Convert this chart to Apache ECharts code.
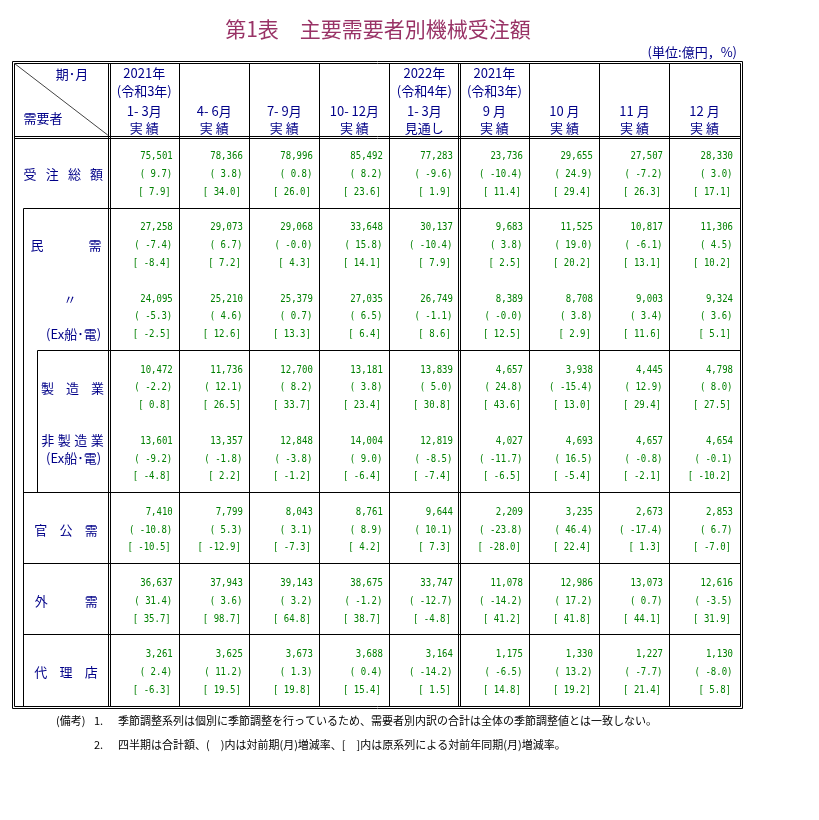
<!DOCTYPE html>
<html>
<head>
<meta charset="utf-8">
<script src="https://cdn.jsdelivr.net/npm/echarts@6/dist/echarts.min.js"></script>
<style>html,body{margin:0;background:#fff}#main{width:819px;height:820px}</style>
</head>
<body>
<div id="main"></div>
<script>
// 列見出し
var yearRow = ['2021年', '', '', '', '2022年', '2021年', '', '', ''];
var eraRow = ['(令和3年)', '', '', '', '(令和4年)', '(令和3年)', '', '', ''];
var periodRow = ['1- 3月', '4- 6月', '7- 9月', '10- 12月', '1- 3月', '9 月', '10 月', '11 月', '12 月'];
var statusRow = ['実 績', '実 績', '実 績', '実 績', '見通し', '実 績', '実 績', '実 績', '実 績'];

// 受注総額
var totalVal = [75501, 78366, 78996, 85492, 77283, 23736, 29655, 27507, 28330];
var totalMom = [9.7, 3.8, 0.8, 8.2, -9.6, -10.4, 24.9, -7.2, 3.0];
var totalYoy = [7.9, 34.0, 26.0, 23.6, 1.9, 11.4, 29.4, 26.3, 17.1];
// 民需
var privVal = [27258, 29073, 29068, 33648, 30137, 9683, 11525, 10817, 11306];
var privMom = [-7.4, 6.7, -0.0, 15.8, -10.4, 3.8, 19.0, -6.1, 4.5];
var privYoy = [-8.4, 7.2, 4.3, 14.1, 7.9, 2.5, 20.2, 13.1, 10.2];
// 民需 (Ex船・電)
var privExVal = [24095, 25210, 25379, 27035, 26749, 8389, 8708, 9003, 9324];
var privExMom = [-5.3, 4.6, 0.7, 6.5, -1.1, -0.0, 3.8, 3.4, 3.6];
var privExYoy = [-2.5, 12.6, 13.3, 6.4, 8.6, 12.5, 2.9, 11.6, 5.1];
// 製造業
var mfgVal = [10472, 11736, 12700, 13181, 13839, 4657, 3938, 4445, 4798];
var mfgMom = [-2.2, 12.1, 8.2, 3.8, 5.0, 24.8, -15.4, 12.9, 8.0];
var mfgYoy = [0.8, 26.5, 33.7, 23.4, 30.8, 43.6, 13.0, 29.4, 27.5];
// 非製造業 (Ex船・電)
var nonMfgVal = [13601, 13357, 12848, 14004, 12819, 4027, 4693, 4657, 4654];
var nonMfgMom = [-9.2, -1.8, -3.8, 9.0, -8.5, -11.7, 16.5, -0.8, -0.1];
var nonMfgYoy = [-4.8, 2.2, -1.2, -6.4, -7.4, -6.5, -5.4, -2.1, -10.2];
// 官公需
var govVal = [7410, 7799, 8043, 8761, 9644, 2209, 3235, 2673, 2853];
var govMom = [-10.8, 5.3, 3.1, 8.9, 10.1, -23.8, 46.4, -17.4, 6.7];
var govYoy = [-10.5, -12.9, -7.3, 4.2, 7.3, -28.0, 22.4, 1.3, -7.0];
// 外需
var extVal = [36637, 37943, 39143, 38675, 33747, 11078, 12986, 13073, 12616];
var extMom = [31.4, 3.6, 3.2, -1.2, -12.7, -14.2, 17.2, 0.7, -3.5];
var extYoy = [35.7, 98.7, 64.8, 38.7, -4.8, 41.2, 41.8, 44.1, 31.9];
// 代理店
var agentVal = [3261, 3625, 3673, 3688, 3164, 1175, 1330, 1227, 1130];
var agentMom = [2.4, 11.2, 1.3, 0.4, -14.2, -6.5, 13.2, -7.7, -8.0];
var agentYoy = [-6.3, 19.5, 19.8, 15.4, 1.5, 14.8, 19.2, 21.4, 5.8];

var rows = [
    [totalVal, totalMom, totalYoy],
    [privVal, privMom, privYoy],
    [privExVal, privExMom, privExYoy],
    [mfgVal, mfgMom, mfgYoy],
    [nonMfgVal, nonMfgMom, nonMfgYoy],
    [govVal, govMom, govYoy],
    [extVal, extMom, extYoy],
    [agentVal, agentMom, agentYoy]
];

var NAVY = '#000088', GREEN = '#008000';
var DATA_FONT = '9px "DejaVu Sans Mono"';
var JP_FONT = '13px "Noto Sans CJK JP"';

function pct(v) {
    var neg = v < 0 || Object.is(v, -0);
    return (neg ? '-' : '') + Math.abs(v).toFixed(1);
}
function num(v) {
    return String(v).replace(/\B(?=(\d{3})+(?!\d))/g, ',');
}

var cells = [];
function add(x, y, text, color, font, align, dx, sy) {
    cells.push({x: x, y: y, text: text, color: color, font: font, align: align, dx: dx || 0, sy: sy || 1});
}
// 文字を均等割り付け
function spread(text, x0, x1, y) {
    var ch = text.split('');
    for (var i = 0; i < ch.length; i++) {
        add(x0 + (x1 - x0) * i / (ch.length - 1), y, ch[i], NAVY, JP_FONT, 'center');
    }
}

// 見出し
for (var c = 0; c < 9; c++) {
    add(c + 0.5, -0.893, yearRow[c], NAVY, JP_FONT, 'center');
    add(c + 0.5, -0.640, eraRow[c], NAVY, JP_FONT, 'center');
    add(c + 0.5, -0.359, periodRow[c], NAVY, JP_FONT, 'center');
    add(c + 0.5, -0.120, statusRow[c], NAVY, JP_FONT, 'center');
}
add(-0.531, -0.883, '期･月', NAVY, JP_FONT, 'center');
add(-0.945, -0.26, '需要者', NAVY, JP_FONT, 'center');

// 需要者
spread('受注総額', -1.131, -0.181, 0.53);
spread('民需', -1.031, -0.203, 1.53);
add(-0.56, 2.28, '〃', NAVY, JP_FONT, 'center');
add(-0.117, 2.78, '(Ex船･電)', NAVY, JP_FONT, 'right');
spread('製造業', -0.881, -0.167, 3.53);
spread('非製造業', -0.878, -0.17, 4.27);
add(-0.117, 4.52, '(Ex船･電)', NAVY, JP_FONT, 'right');
spread('官公需', -0.978, -0.257, 5.53);
spread('外需', -0.971, -0.257, 6.53);
spread('代理店', -0.977, -0.257, 7.53);

// 数値
rows.forEach(function (r, ri) {
    for (var c = 0; c < 9; c++) {
        add(c + 1, ri + 0.28, num(r[0][c]), GREEN, DATA_FONT, 'right', -6.5, 1.22);
        add(c + 1, ri + 0.53, '( ' + pct(r[1][c]) + ')', GREEN, DATA_FONT, 'right', -7, 1.22);
        add(c + 1, ri + 0.78, '[ ' + pct(r[2][c]) + ']', GREEN, DATA_FONT, 'right', -8.5, 1.22);
    }
});

var X0 = -1.36, X1 = 9, Y0 = -1.034, Y1 = 8;

function renderRules(params, api) {
    var out = [];
    function p(v) { return Math.round(v) + 0.5; }
    function line(x1, y1, x2, y2, color) {
        out.push({type: 'line', shape: {x1: x1, y1: y1, x2: x2, y2: y2},
            style: {stroke: color || '#000', lineWidth: 1}, silent: true});
    }
    function h(y, xa, xb, off) {
        var a = api.coord([xa, y]), b = api.coord([xb, y]);
        var yy = p(a[1] + (off || 0));
        line(p(a[0]), yy, p(b[0]), yy);
    }
    function v(x, ya, yb, off) {
        var a = api.coord([x, ya]), b = api.coord([x, yb]);
        var xx = p(a[0] + (off || 0));
        line(xx, p(a[1]), xx, p(b[1]));
    }
    var tl = api.coord([X0, Y0]), br = api.coord([X1, Y1]);
    // 外枠 (二重線)
    [0, 2].forEach(function (o) {
        var l = p(tl[0]) - o, t = p(tl[1]) - o, r = p(br[0]) + o, b = p(br[1]) + o;
        line(l, t, r, t); line(l, b, r, b); line(l, t, l, b); line(r, t, r, b);
    });
    // 見出し下 (二重線)
    h(0, X0, X1, -1); h(0, X0, X1, 1);
    // 縦線
    v(0, Y0, Y1, -1); v(0, Y0, Y1, 1);
    v(5, Y0, Y1, -1); v(5, Y0, Y1, 1);
    [1, 2, 3, 4, 6, 7, 8].forEach(function (x) { v(x, Y0, Y1); });
    v(-1.227, 1, Y1);
    v(-1.035, 3, 5);
    // 横線
    h(1, -1.227, X1);
    h(3, -1.035, X1);
    h(5, -1.227, X1);
    h(6, -1.227, X1);
    h(7, -1.227, X1);
    // 斜線
    var d = api.coord([0, 0]);
    out.push({type: 'line', shape: {x1: p(tl[0]), y1: p(tl[1]), x2: d[0] - 1.5, y2: d[1] - 1.5},
        style: {stroke: '#444', lineWidth: 1}, silent: true});
    return {type: 'group', children: out};
}

function renderCell(params, api) {
    var c = cells[params.dataIndex];
    var pt = api.coord([c.x, c.y]);
    return {
        type: 'text', x: pt[0] + c.dx, y: pt[1], scaleY: c.sy, silent: true,
        style: {text: c.text, fill: c.color, font: c.font, textAlign: c.align, textVerticalAlign: 'middle'}
    };
}

var myChart = echarts.init(document.getElementById('main'));
var option = {
    animation: false,
    backgroundColor: '#fff',
    grid: {left: 14, right: 79.5, top: 63, bottom: 114.5},
    xAxis: {type: 'value', min: X0, max: X1, show: false},
    yAxis: {type: 'value', min: Y0, max: Y1, inverse: true, show: false},
    graphic: [
        {type: 'text', x: 378, y: 29, silent: true,
            style: {text: '第1表　主要需要者別機械受注額', fill: '#993366', font: '21px "Noto Sans CJK JP"',
                textAlign: 'center', textVerticalAlign: 'middle'}},
        {type: 'text', x: 737, y: 52, silent: true,
            style: {text: '(単位:億円，%)', fill: NAVY, font: '13px "Noto Sans CJK JP"',
                textAlign: 'right', textVerticalAlign: 'middle'}},
        {type: 'text', x: 56, y: 721, silent: true,
            style: {text: '(備考)', fill: '#000', font: '11px "Noto Sans CJK JP"', textVerticalAlign: 'middle'}},
        {type: 'text', x: 94, y: 721, silent: true,
            style: {text: '1.', fill: '#000', font: '11px "Noto Sans CJK JP"', textVerticalAlign: 'middle'}},
        {type: 'text', x: 118, y: 721, silent: true,
            style: {text: '季節調整系列は個別に季節調整を行っているため、需要者別内訳の合計は全体の季節調整値とは一致しない。',
                fill: '#000', font: '11px "Noto Sans CJK JP"', textVerticalAlign: 'middle'}},
        {type: 'text', x: 94, y: 745, silent: true,
            style: {text: '2.', fill: '#000', font: '11px "Noto Sans CJK JP"', textVerticalAlign: 'middle'}},
        {type: 'text', x: 118, y: 745, silent: true,
            style: {text: '四半期は合計額、(　)内は対前期(月)増減率、[　]内は原系列による対前年同期(月)増減率。',
                fill: '#000', font: '11px "Noto Sans CJK JP"', textVerticalAlign: 'middle'}}
    ],
    series: [
        {type: 'custom', renderItem: renderRules, data: [[0, 0]], clip: false, silent: true},
        {type: 'custom', renderItem: renderCell, data: cells.map(function (c) { return [c.x, c.y]; }), clip: false, silent: true}
    ]
};
myChart.setOption(option);
</script>
</body>
</html>
